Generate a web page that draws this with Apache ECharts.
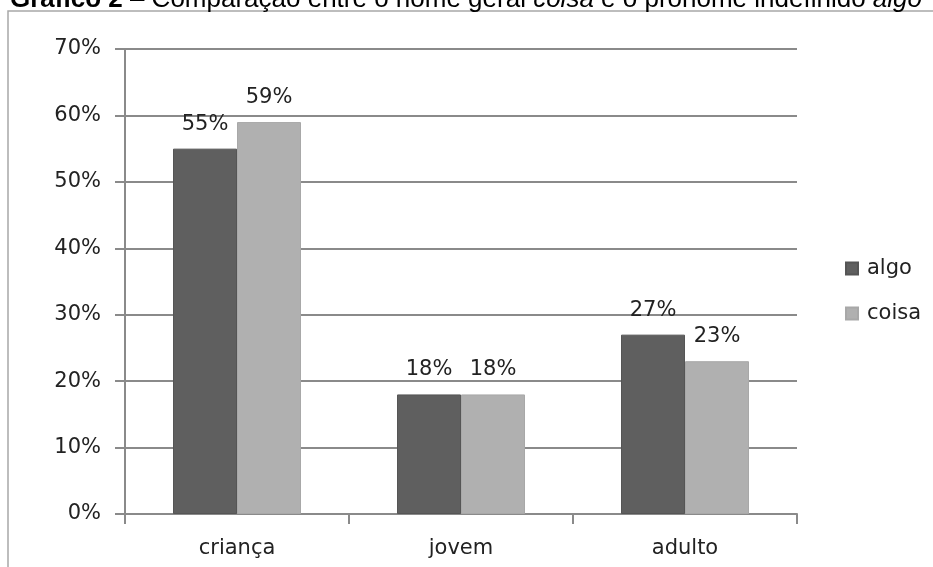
<!DOCTYPE html>
<html>
<head>
<meta charset="utf-8">
<script src="https://cdn.jsdelivr.net/npm/echarts@6/dist/echarts.min.js"></script>
<style>
  html, body { margin: 0; padding: 0; background: #fff; }
  #chart { width: 933px; height: 567px; }
</style>
</head>
<body>
<div id="chart"></div>
<script>
// Age groups and the share of each form per group (percent)
const categories = ['criança', 'jovem', 'adulto'];
const algoValues = [55, 18, 27];
const coisaValues = [59, 18, 23];
const yTicks = [0, 10, 20, 30, 40, 50, 60, 70];

const FONT = 'DejaVu Sans';
const FS = 21;
const chart = echarts.init(document.getElementById('chart'));

const labelStyle = {
  show: true,
  position: 'top',
  distance: 14,
  color: '#222',
  fontFamily: FONT,
  fontSize: FS,
  formatter: p => Math.round(p.value) + '%'
};

chart.setOption({
  animation: false,
  backgroundColor: '#fff',
  graphic: [
    {
      type: 'rect',
      shape: { x: 8, y: 11, width: 1000, height: 1000 },
      style: { fill: 'none', stroke: '#a8a8a8', lineWidth: 1.5 },
      silent: true
    },
    {
      type: 'text',
      x: 10,
      y: 0,
      style: {
        text: '{b|Gráfico 2} – Comparação entre o nome geral {i|coisa} e o pronome indefinido {i|algo}',
        fontFamily: 'Liberation Sans',
        fontSize: 26,
        fill: '#000',
        verticalAlign: 'middle',
        rich: {
          b: { fontWeight: 'bold', fontFamily: 'Liberation Sans', fontSize: 26, fill: '#000' },
          i: { fontStyle: 'italic', fontFamily: 'Liberation Sans', fontSize: 26, fill: '#000' }
        }
      },
      silent: true
    }
  ],
  legend: {
    orient: 'vertical',
    left: 840,
    top: 253,
    itemWidth: 12,
    itemHeight: 12,
    itemGap: 24,
    icon: 'rect',
    textStyle: { fontFamily: FONT, fontSize: FS, color: '#222', padding: [0, 0, 0, 4] },
    data: ['algo', 'coisa']
  },
  grid: { left: 125, right: 136, top: 49, bottom: 53 },
  xAxis: {
    type: 'category',
    data: categories,
    axisLine: { lineStyle: { color: '#8a8a8a', width: 2 } },
    axisTick: { show: true, length: 10, lineStyle: { color: '#8a8a8a', width: 2 } },
    axisLabel: { fontFamily: FONT, fontSize: FS, color: '#222', margin: 24 }
  },
  yAxis: {
    type: 'value',
    min: yTicks[0],
    max: yTicks[yTicks.length - 1],
    interval: 10,
    axisLine: { show: true, lineStyle: { color: '#8a8a8a', width: 2 } },
    axisTick: { show: true, length: 10, lineStyle: { color: '#8a8a8a', width: 2 } },
    axisLabel: { fontFamily: FONT, fontSize: FS, color: '#222', margin: 24, formatter: v => v + '%' },
    splitLine: { lineStyle: { color: '#8a8a8a', width: 2 } }
  },
  series: [
    {
      name: 'algo',
      type: 'bar',
      data: algoValues,
      barWidth: 64,
      barGap: '0%',
      itemStyle: { color: '#5f5f5f', borderColor: '#555', borderWidth: 1 },
      label: labelStyle
    },
    {
      name: 'coisa',
      type: 'bar',
      data: coisaValues,
      barWidth: 64,
      barGap: '0%',
      itemStyle: { color: '#b0b0b0', borderColor: '#a8a8a8', borderWidth: 1 },
      label: labelStyle
    }
  ]
});
</script>
</body>
</html>
